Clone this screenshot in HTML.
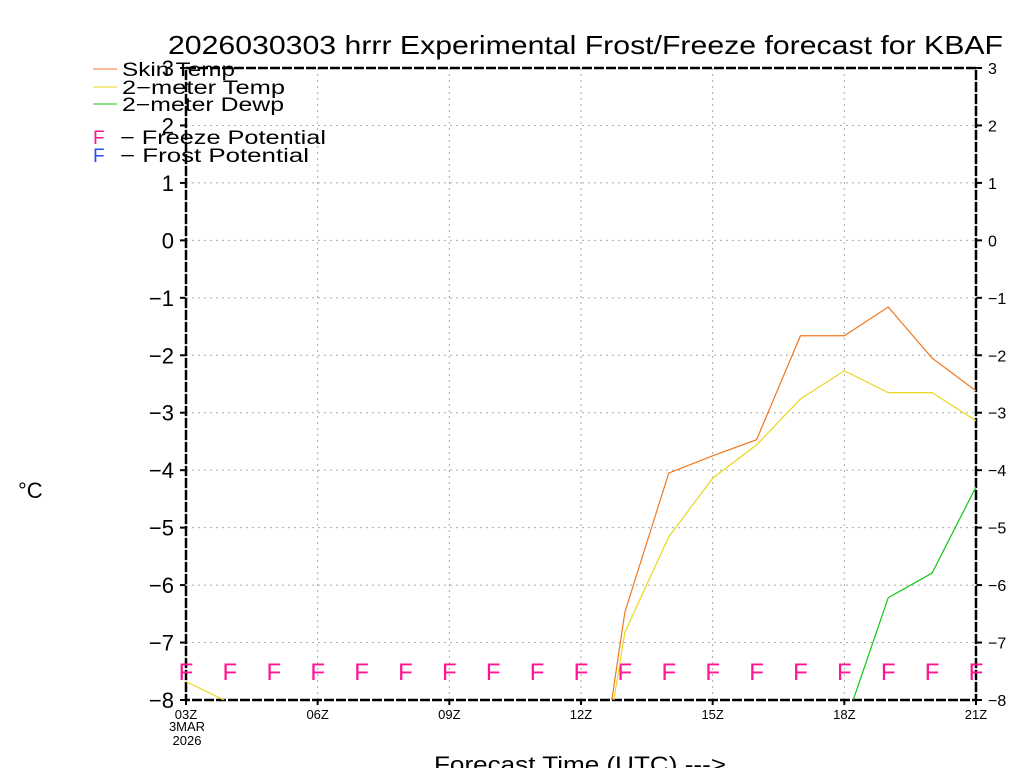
<!DOCTYPE html>
<html><head><meta charset="utf-8"><style>
html,body{margin:0;background:#fff;overflow:hidden;width:1024px;height:768px;}
svg text{font-family:"Liberation Sans",sans-serif;}
</style></head><body>
<svg id="c" width="1024" height="768" style="position:absolute;left:0;top:0" xmlns="http://www.w3.org/2000/svg"></svg>
<script>
const hours=[3,4,5,6,7,8,9,10,11,12,13,14,15,16,17,18,19,20,21];
const skinTemp=[-12,-12,-12,-12,-12,-12,-12,-12,-12,-11.6,-6.47,-4.05,-3.75,-3.47,-1.66,-1.66,-1.16,-2.05,-2.62];
const airTemp=[-7.68,-8.05,-8.5,-9,-9,-9,-9,-9,-9,-11.5,-6.82,-5.16,-4.14,-3.56,-2.76,-2.27,-2.65,-2.65,-3.14];
const dewp=[-12,-12,-12,-12,-12,-12,-12,-12,-12,-12,-12,-12,-12,-12,-12,-8.45,-6.22,-5.79,-4.29];
const freeze=[1,1,1,1,1,1,1,1,1,1,1,1,1,1,1,1,1,1,1];
const yTicks=[-8,-7,-6,-5,-4,-3,-2,-1,0,1,2,3];
const xTicks=[3,6,9,12,15,18,21];
const xLabels=["03Z","06Z","09Z","12Z","15Z","18Z","21Z"];
const NS="http://www.w3.org/2000/svg";
const svg=document.getElementById('c');
const L=186,R=976,T=68,B=700;
const X=h=>L+(h-3)*(R-L)/18;
const Y=v=>B-(v+8)*(B-T)/11;
function el(t,a,p){const e=document.createElementNS(NS,t);for(const k in a)e.setAttribute(k,a[k]);(p||svg).appendChild(e);return e;}
const defs=el('defs',{});const cp=el('clipPath',{id:'clip'},defs);el('rect',{x:L,y:T,width:R-L,height:B-T},cp);
yTicks.forEach(v=>{const g=el('line',{x1:L,x2:R,y1:Y(v),y2:Y(v),stroke:'#aaa','stroke-dasharray':'2,4'});


[[L-6,L],[R,R+6]].forEach(p=>el('line',{x1:p[0],x2:p[1],y1:Y(v),y2:Y(v),stroke:'#000','stroke-width':2}));
const t1=el('text',{x:L-12,y:Y(v)+8,'text-anchor':'end','font-size':22});t1.textContent=v<0?'\u2212'+(-v):v;


const t2=el('text',{x:R+12,y:Y(v)+6,'font-size':16});t2.textContent=v<0?'\u2212'+(-v):v;

});
xTicks.forEach((h,i)=>{const g=el('line',{x1:X(h),x2:X(h),y1:T,y2:B,stroke:'#aaa','stroke-dasharray':'2,4'});


el('line',{x1:X(h),x2:X(h),y1:B,y2:B+5,stroke:'#000','stroke-width':2});
const t=el('text',{x:X(h),y:B+19,'text-anchor':'middle','font-size':13});t.textContent=xLabels[i];

});
el('rect',{x:L,y:T,width:R-L,height:B-T,fill:'none',stroke:'#000','stroke-width':2.5,'stroke-dasharray':'10,2'});
hours.forEach((h,i)=>{if(!freeze[i])return;const t=el('text',{x:X(h),y:680,'text-anchor':'middle','font-size':24,fill:'#ff1493'});t.textContent='F';

});
function series(vals,col,name){const p=el('polyline',{points:hours.map((h,i)=>X(h)+','+Y(vals[i])).join(' '),fill:'none',stroke:col,'stroke-width':1.2,'clip-path':'url(#clip)'});

}
series(skinTemp,'#f07820','skin-temp-line');
series(airTemp,'#e8d820','2m-temp-line');
series(dewp,'#10c810','2m-dewp-line');
</script>
<svg style="position:absolute;left:0;top:0" width="1024" height="768">
<text x="168" y="54" font-size="26" font-family="Liberation Sans" textLength="835" lengthAdjust="spacingAndGlyphs">2026030303 hrrr Experimental Frost/Freeze forecast for KBAF</text>
<g font-size="19" font-family="Liberation Sans">
<line x1="93" x2="117" y1="69" y2="69" stroke="#f07820"/><text x="122" y="76" textLength="113" lengthAdjust="spacingAndGlyphs">Skin Temp</text>
<line x1="93" x2="117" y1="87" y2="87" stroke="#e8d820"/><text x="122" y="94" textLength="163" lengthAdjust="spacingAndGlyphs">2−meter Temp</text>
<line x1="93" x2="117" y1="104" y2="104" stroke="#10c810"/><text x="122" y="111" textLength="162" lengthAdjust="spacingAndGlyphs">2−meter Dewp</text>
<text x="93" y="144" fill="#ff1493">F</text><text x="120" y="144" textLength="206" lengthAdjust="spacingAndGlyphs">− Freeze Potential</text>
<text x="93" y="162" fill="#2050ff">F</text><text x="120" y="162" textLength="189" lengthAdjust="spacingAndGlyphs">− Frost Potential</text>
</g>
<text x="18" y="498" font-size="22" font-family="Liberation Sans">°C</text>
<text x="187" y="731" font-size="13" text-anchor="middle" font-family="Liberation Sans">3MAR</text>
<text x="187" y="745" font-size="13" text-anchor="middle" font-family="Liberation Sans">2026</text>
<text x="434" y="772" font-size="22" font-family="Liberation Sans" textLength="292" lengthAdjust="spacingAndGlyphs">Forecast Time (UTC) ---&gt;</text>
</svg>
</body></html>
